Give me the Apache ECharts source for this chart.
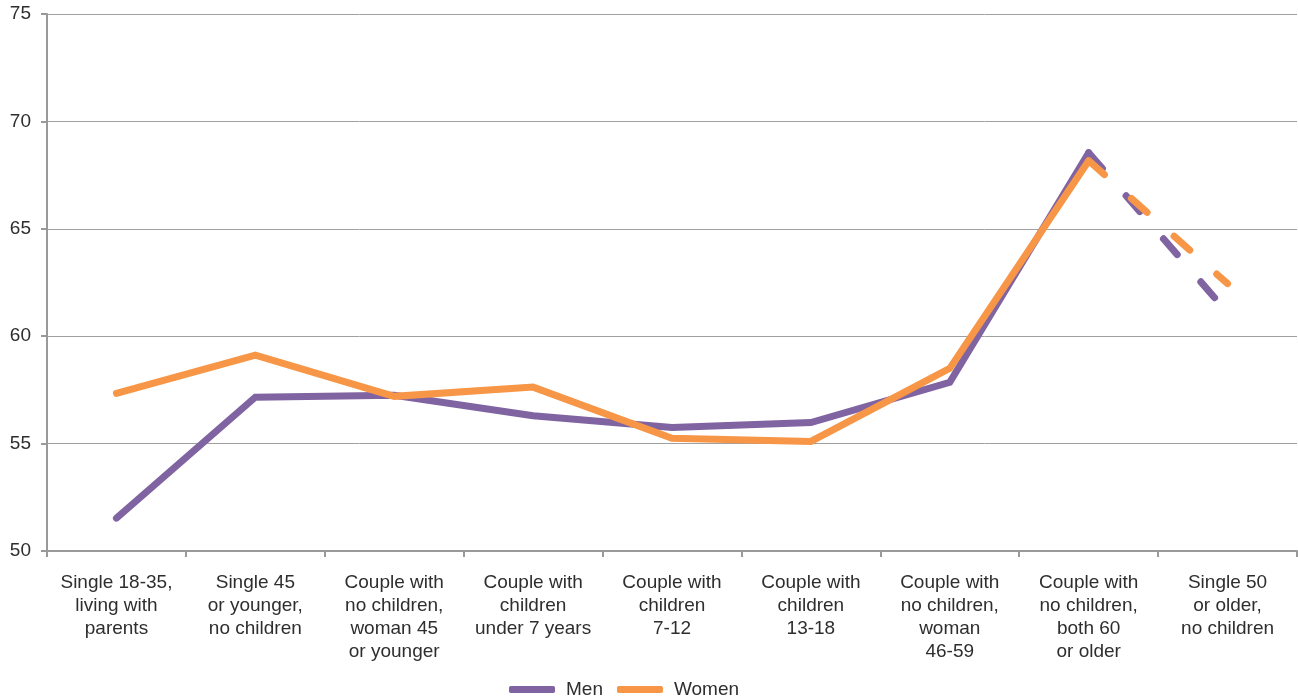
<!DOCTYPE html>
<html>
<head>
<meta charset="utf-8">
<script src="https://cdn.jsdelivr.net/npm/echarts@6/dist/echarts.min.js"></script>
<style>
html,body{margin:0;padding:0;background:#fff;}
#chart{width:1298px;height:700px;}
</style>
</head>
<body>
<div id="chart"></div>
<script>
const categories = [
  "Single 18-35,\nliving with\nparents",
  "Single 45\nor younger,\nno children",
  "Couple with\nno children,\nwoman 45\nor younger",
  "Couple with\nchildren\nunder 7 years",
  "Couple with\nchildren\n7-12",
  "Couple with\nchildren\n13-18",
  "Couple with\nno children,\nwoman\n46-59",
  "Couple with\nno children,\nboth 60\nor older",
  "Single 50\nor older,\nno children"
];
const men   = [51.53, 57.16, 57.25, 56.3, 55.75, 55.98, 57.85, 68.54, 61.1];
const women = [57.34, 59.12, 57.2, 57.63, 55.25, 55.1, 58.5, 68.17, 62.45];
const yTicks = { min: 50, max: 75, interval: 5 };
const seriesNames = ["Men", "Women"];
const colors = ["#8064A2", "#F79646"];

// solid part: up to the 8th category; dashed part: 8th to 9th
const solidPart = arr => arr.map((v, i) => i <= 7 ? v : null);
const dashedPart = arr => arr.map((v, i) => i >= 7 ? v : null);

const font = "'Liberation Sans', Arial, Helvetica, sans-serif";
const textColor = '#2e2e2e';
const chart = echarts.init(document.getElementById('chart'), null, { renderer: 'canvas' });

function lineSeries(name, data, color, dashed) {
  return {
    name: name,
    type: 'line',
    data: data,
    symbol: 'none',
    showSymbol: false,
    connectNulls: false,
    silent: true,
    lineStyle: {
      color: color,
      width: 7,
      cap: 'round',
      join: 'miter',
      type: dashed ? [21, 36] : 'solid'
    },
    itemStyle: { color: color },
    emphasis: { disabled: true }
  };
}

chart.setOption({
  animation: false,
  grid: { left: 47, right: 1, top: 14, bottom: 149, containLabel: false },
  legend: {
    data: seriesNames,
    left: 504,
    top: 675,
    icon: 'roundRect',
    itemWidth: 46,
    itemHeight: 7,
    itemGap: 14,
    selectedMode: false,
    textStyle: { fontFamily: font, fontSize: 19, color: textColor, padding: [0, 0, 0, 6] }
  },
  xAxis: {
    type: 'category',
    data: categories,
    boundaryGap: true,
    axisLine: { show: true, lineStyle: { color: '#999', width: 2 } },
    axisTick: { show: true, length: 6, lineStyle: { color: '#999', width: 2 } },
    axisLabel: {
      interval: 0,
      margin: 20,
      fontFamily: font,
      fontSize: 19,
      lineHeight: 23,
      color: textColor,
      align: 'center'
    },
    splitLine: { show: false }
  },
  yAxis: {
    type: 'value',
    min: yTicks.min,
    max: yTicks.max,
    interval: yTicks.interval,
    axisLine: { show: true, lineStyle: { color: '#999', width: 2 } },
    axisTick: { show: true, length: 6, lineStyle: { color: '#999', width: 2 } },
    axisLabel: { margin: 16, fontFamily: font, fontSize: 19, color: textColor },
    splitLine: { show: true, lineStyle: { color: '#a0a0a0', width: 1 } }
  },
  series: [
    lineSeries('Men', solidPart(men), colors[0], false),
    lineSeries('Women', solidPart(women), colors[1], false),
    lineSeries('Men ', dashedPart(men), colors[0], true),
    lineSeries('Women ', dashedPart(women), colors[1], true)
  ]
});
</script>
</body>
</html>
